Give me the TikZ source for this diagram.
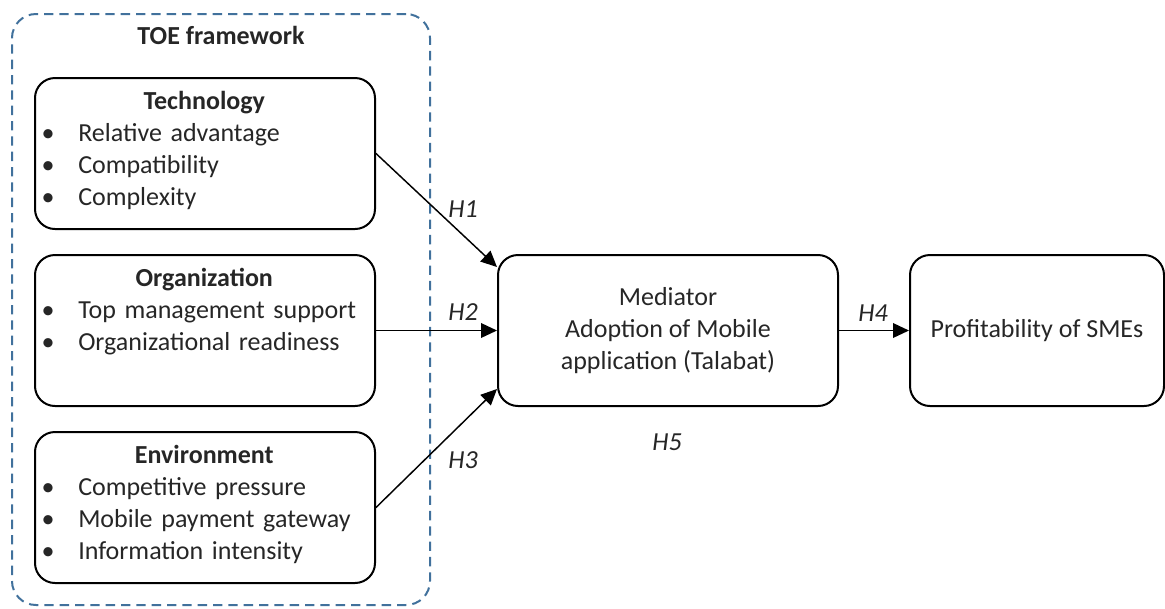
\documentclass[tikz,border=0pt]{standalone}
\usepackage{fontspec}
\setmainfont{Carlito}
\usetikzlibrary{arrows.meta}
\definecolor{toeblue}{RGB}{65,113,156}
\newcommand{\bitem}[1]{\makebox[33pt][l]{\hspace{5.5pt}\textbullet}#1\par}

\begin{document}
\begin{tikzpicture}[x=0.75pt,y=-0.75pt]
    \tikzstyle{every node}=[font=\fontsize{19.5}{24}\selectfont, text=black!85, inner sep=0pt]
    \tikzstyle{box}=[draw=black, line width=1.5pt, rounded corners=15pt, minimum width=255pt, minimum height=113.25pt]
    \tikzstyle{list}=[text width=255pt, align=left, anchor=base west, yshift=-24pt]
    \tikzstyle{edge}=[black, line width=1.1pt, -{Triangle[length=12pt,width=11pt]}]
    \tikzstyle{hyp}=[font=\fontsize{19.5}{24}\selectfont\itshape]

    \useasboundingbox (0,0) rectangle (1165,608);

    % TOE frame
    \node[draw=toeblue, line width=1.5pt, dash pattern=on 7pt off 4.5pt, rounded corners=18pt, minimum width=313.5pt, minimum height=443.25pt] (toe) at (221,309.5) {};
    \node[font=\fontsize{19.5}{24}\selectfont\bfseries] (toetitle) at (221,35) {TOE framework};

    % factor boxes
    \node[box] (tech) at (205,153.5) {};
    \node[box] (org) at (205,330.5) {};
    \node[box] (env) at (205,507.5) {};
    \node[list] (techlist) at (tech.north west) {{\centering\bfseries Technology\par}
        \bitem{Relative advantage}\bitem{Compatibility}\bitem{Complexity}};
    \node[list] (orglist) at (org.north west) {{\centering\bfseries Organization\par}
        \bitem{Top management support}\bitem{Organizational readiness}};
    \node[list] (envlist) at (env.north west) {{\centering\bfseries Environment\par}
        \bitem{Competitive pressure}\bitem{Mobile payment gateway}\bitem{Information intensity}};

    \node[box, align=center] (med) at (668,330.5) {Mediator\\Adoption of Mobile\\application (Talabat)};
    \node[box, minimum width=190.5pt] (prof) at (1037,330.5) {Profitability of SMEs};

    \draw[edge] (tech.east) -- ([yshift=-9.75pt]med.north west);
    \draw[edge] (org.east) -- (med.west);
    \draw[edge] (env.east) -- ([yshift=13.5pt]med.south west);
    \draw[edge] (med.east) -- (prof.west);

    \node[hyp] (h1) at (463,209) {H1};
    \node[hyp] (h2) at (463,312) {H2};
    \node[hyp] (h3) at (463,460) {H3};
    \node[hyp] (h4) at (873,313) {H4};
    \node[hyp] (h5) at (667,442) {H5};
\end{tikzpicture}
\end{document}
